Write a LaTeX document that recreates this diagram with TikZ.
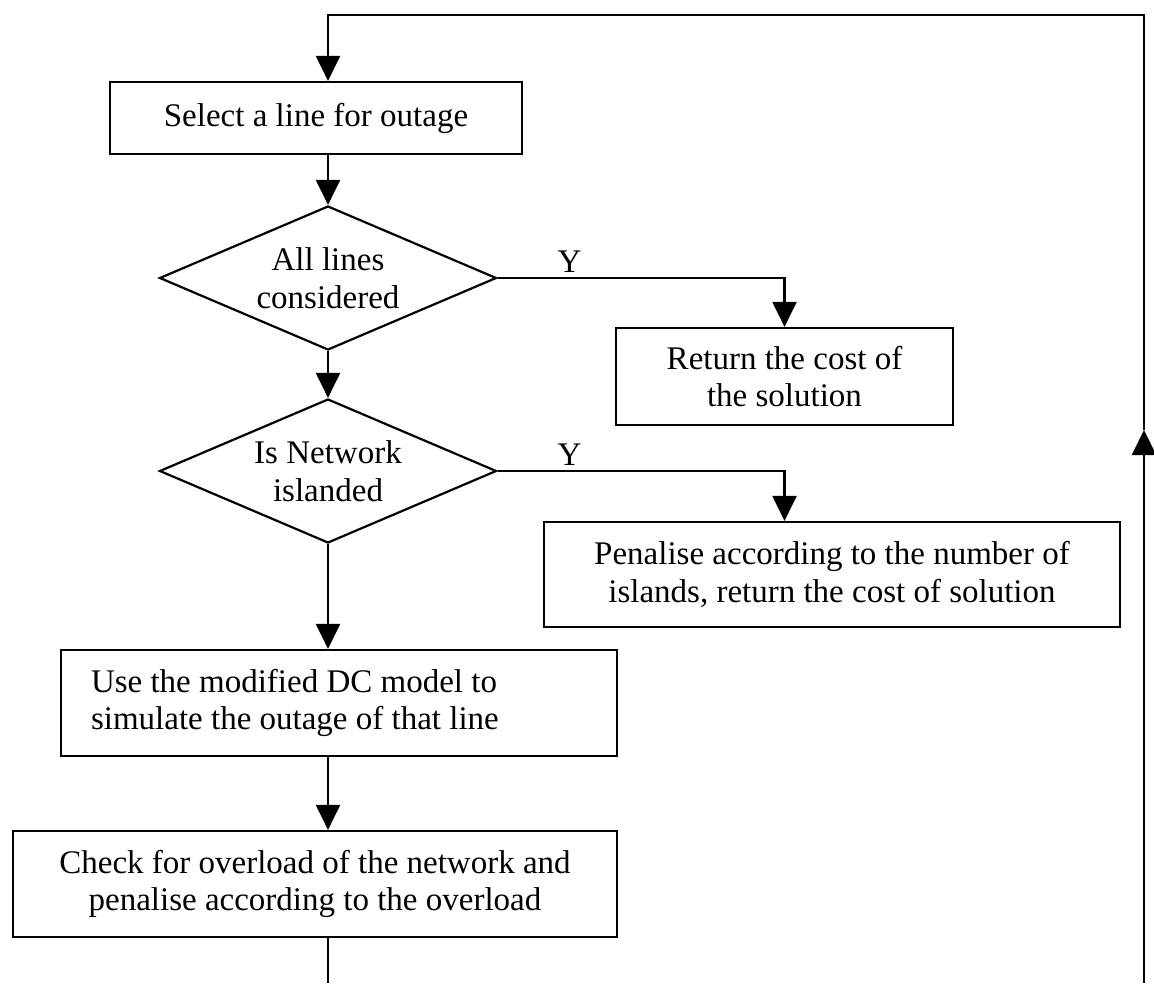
\documentclass[tikz,border=0pt]{standalone}
\usepackage{fontspec}
\setmainfont{Liberation Serif}
\usetikzlibrary{shapes.geometric,arrows.meta,calc}
\begin{document}
\begin{tikzpicture}[x=1pt,y=-1pt,
  line width=2.2pt,
  every node/.style={font=\fontsize{33}{37.5}\selectfont},
  box/.style={draw,rectangle,inner sep=0pt,align=center},
  decision/.style={draw,diamond,aspect=2.34,inner sep=0pt,minimum width=337pt,minimum height=144pt,align=center},
  arr/.style={-{Triangle[length=25pt,width=24pt]}},
  lbl/.style={anchor=base,inner sep=0pt}]
\useasboundingbox (0,0) rectangle (1154,983);

\coordinate (spine) at (328,0);
\coordinate (rt) at (1144,15);
\coordinate (rm) at (1144,430);
\coordinate (rb) at (1144,983);
\coordinate (bot) at (328,983);

\node[box,minimum width=412pt,minimum height=72pt] (select) at (316,118) {Select a line for outage};
\node[decision] (d1) at (328,278) {All lines\\considered};
\node[box,minimum width=337pt,minimum height=97pt] (ret) at (784.5,376.5) {Return the cost of\\the solution};
\node[decision] (d2) at (328,471) {Is Network\\islanded};
\node[box,minimum width=576pt,minimum height=105pt] (pen) at (832,574.5) {Penalise according to the number of\\islands, return the cost of solution};
\node[box,text width=496pt,align=flush left,inner xsep=30pt,inner ysep=0pt,minimum height=106pt] (dc) at (339,703) {Use the modified DC model to\\simulate the outage of that line};
\node[box,minimum width=604pt,minimum height=106pt] (chk) at (315,884) {Check for overload of the network and\\penalise according to the overload};

\draw[arr] (rm) -- (rt) -| (select.north -| spine);
\draw[arr] (rb) -- (rm);
\draw[arr] (select.south -| spine) -- (d1.north);
\draw[arr] (d1.east) -| (ret.north);
\node[lbl] (y1) at ($(d1.east)+(72,-6)$) {Y};
\draw[arr] (d1.south) -- (d2.north);
\draw[arr] (d2.east) -| (pen.north -| ret.south);
\node[lbl] (y2) at ($(d2.east)+(72,-6)$) {Y};
\draw[arr] (d2.south) -- (dc.north -| d2.south);
\draw[arr] (dc.south -| spine) -- (chk.north -| spine);
\draw (chk.south -| spine) -- (bot);
\end{tikzpicture}
\end{document}
